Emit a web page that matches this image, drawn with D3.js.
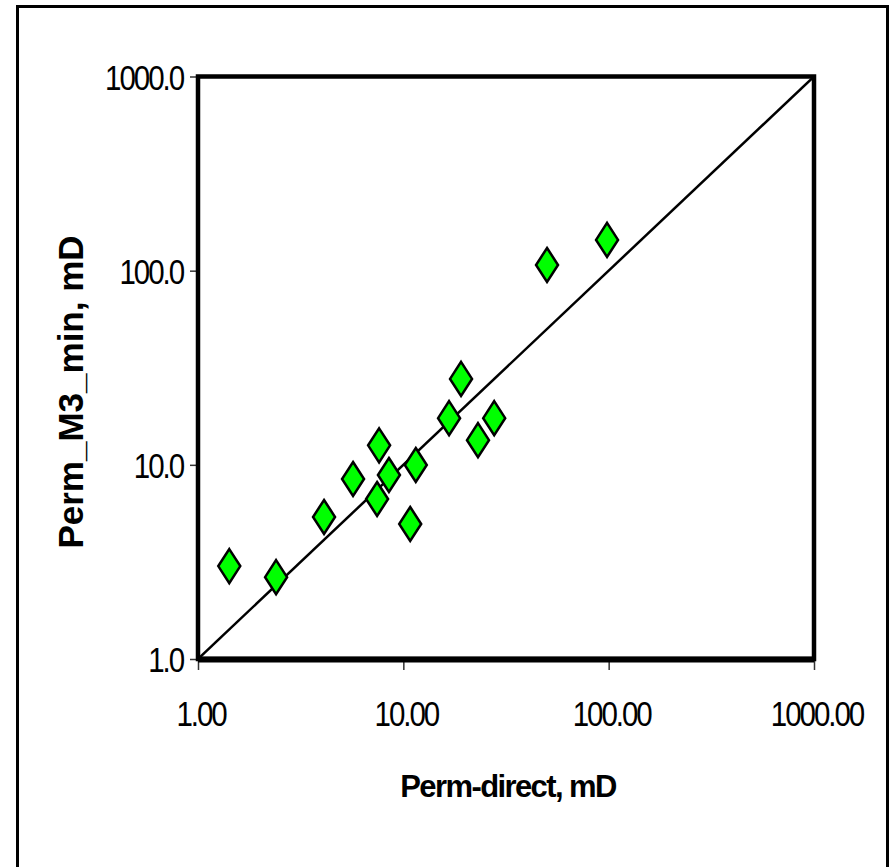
<!DOCTYPE html>
<html>
<head>
<meta charset="utf-8">
<script src="https://cdn.jsdelivr.net/npm/d3@7"></script>
<style>
  html, body { margin: 0; padding: 0; background: #fff; }
  svg { display: block; }
  text { font-family: "Liberation Sans", Arial, sans-serif; fill: #000; }
</style>
</head>
<body>
<script>
// ---- data ----
const permDirect = [1.42, 2.40, 4.11, 5.69, 7.45, 7.62, 8.51, 10.8, 11.5, 16.7, 19.1, 23.1, 27.7, 50.1, 98.2];
const permM3Min  = [3.01, 2.64, 5.39, 8.45, 6.67, 12.6, 8.86, 4.96, 9.98, 17.4, 27.7, 13.4, 17.4, 107, 144];
const xTicks = [1, 10, 100, 1000];
const yTicks = [1, 10, 100, 1000];
const xTickLabels = ["1.00", "10.00", "100.00", "1000.00"];
const yTickLabels = ["1.0", "10.0", "100.0", "1000.0"];
const unityLine = [[1, 1], [1000, 1000]];
const xTitle = "Perm-direct, mD";
const yTitle = "Perm_M3_min, mD";

// ---- layout ----
const W = 892, H = 867;
const plot = { left: 198, right: 814, top: 76.5, bottom: 659 };

const svg = d3.select("body").append("svg").attr("width", W).attr("height", H);

// outer frame
svg.append("rect")
  .attr("x", 17.5).attr("y", 6.5).attr("width", 870).attr("height", 900)
  .attr("fill", "none").attr("stroke", "#000").attr("stroke-width", 3);

const x = d3.scaleLog().domain([1, 1000]).range([plot.left, plot.right]);
const y = d3.scaleLog().domain([1, 1000]).range([plot.bottom, plot.top]);

svg.append("clipPath").attr("id", "clip").append("rect")
  .attr("x", plot.left).attr("y", plot.top)
  .attr("width", plot.right - plot.left).attr("height", plot.bottom - plot.top);

// axes
const sx = 0.82;
const ls = "-2.5px";
const xAxis = svg.append("g")
  .attr("transform", `translate(0,${plot.bottom})`)
  .call(d3.axisBottom(x).tickValues(xTicks).tickSize(11)
        .tickFormat((d, i) => xTickLabels[i]));
xAxis.select(".domain").remove();
xAxis.selectAll(".tick line").attr("stroke", "#333").attr("stroke-width", 1.5);
xAxis.selectAll(".tick text")
  .attr("font-size", 36).attr("font-family", "Liberation Sans, Arial, sans-serif")
  .attr("fill", "#000")
  .attr("letter-spacing", ls)
  .attr("x", 2.5 / sx)
  .attr("y", 67).attr("dy", 0)
  .attr("transform", `scale(${sx},1)`);

const yAxis = svg.append("g")
  .attr("transform", `translate(${plot.left},0)`)
  .call(d3.axisLeft(y).tickValues(yTicks).tickSize(8)
        .tickFormat((d, i) => yTickLabels[i]));
yAxis.select(".domain").remove();
yAxis.selectAll(".tick line").attr("stroke", "#333").attr("stroke-width", 1.5);
yAxis.selectAll(".tick text")
  .attr("font-size", 36).attr("font-family", "Liberation Sans, Arial, sans-serif")
  .attr("fill", "#000")
  .attr("letter-spacing", ls)
  .attr("x", -15 / sx).attr("dy", "0.35em")
  .attr("transform", `scale(${sx},1)`);

// plot border
svg.append("rect")
  .attr("x", plot.left).attr("y", plot.top)
  .attr("width", plot.right - plot.left).attr("height", plot.bottom - plot.top)
  .attr("fill", "none").attr("stroke", "#000").attr("stroke-width", 4.5);
svg.append("line")
  .attr("x1", plot.left).attr("x2", plot.right)
  .attr("y1", plot.bottom + 0.5).attr("y2", plot.bottom + 0.5)
  .attr("stroke", "#000").attr("stroke-width", 6);

// 1:1 line
const line = d3.line().x(d => x(d[0])).y(d => y(d[1]));
svg.append("path")
  .datum(unityLine)
  .attr("d", line)
  .attr("clip-path", "url(#clip)")
  .attr("fill", "none").attr("stroke", "#000").attr("stroke-width", 2.5);

// diamonds
const hw = 11, hh = 17;
const diamond = `M0,${-hh}L${hw},0L0,${hh}L${-hw},0Z`;
svg.append("g").selectAll("path")
  .data(permDirect.map((v, i) => [v, permM3Min[i]]))
  .join("path")
  .attr("d", diamond)
  .attr("transform", d => `translate(${x(d[0])},${y(d[1])})`)
  .attr("fill", "#00ff00").attr("stroke", "#000").attr("stroke-width", 2.5)
  .attr("stroke-linejoin", "miter");

// titles
svg.append("text")
  .attr("x", 508).attr("y", 797)
  .attr("text-anchor", "middle")
  .attr("font-size", 31).attr("font-weight", "bold")
  .attr("letter-spacing", "-1.6px")
  .text(xTitle);

svg.append("text")
  .attr("transform", "translate(83,392) rotate(-90)")
  .attr("text-anchor", "middle")
  .attr("font-size", 35).attr("font-weight", "bold")
  .text(yTitle);
</script>
</body>
</html>
